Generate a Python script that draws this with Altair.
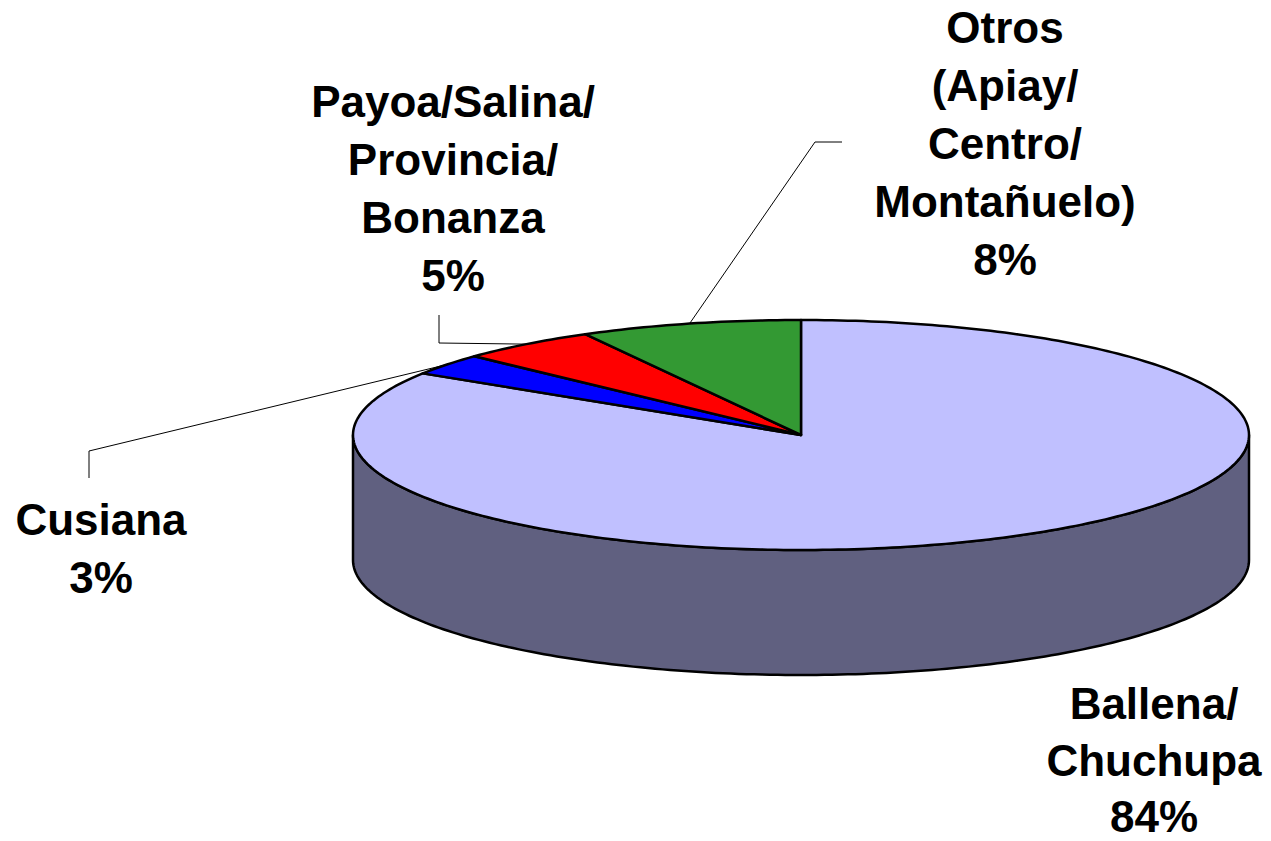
import math
import altair as alt
import pandas as pd

# ---- data ----
categories = ["Ballena/Chuchupa", "Cusiana", "Payoa/Salina/Provincia/Bonanza",
              "Otros (Apiay/Centro/Montañuelo)"]
values = [84, 3, 5, 8]
label_lines = [["Ballena/", "Chuchupa"], ["Cusiana"],
               ["Payoa/Salina/", "Provincia/", "Bonanza"],
               ["Otros", "(Apiay/", "Centro/", "Montañuelo)"]]
top_colors = ["#C0C0FF", "#0000FF", "#FF0000", "#339933"]
side_colors = ["#606080", "#000080", "#800000", "#1A4D1A"]

# ---- layout (pixels of the page) ----
CX, CY, RX, RY, DEPTH = 801, 435, 448, 115, 125
LABEL_ANCHOR = [(1154, 719), (101, 535), (453, 117), (1005, 43)]
LINE_H = [56.5, 58, 58, 58]
LEADER = [None, [(89, 451), (89, 478)], [(439, 343), (439, 315)], [(815, 142), (842, 142)]]
FONT = "Liberation Sans"
FS = 44


def rim(theta_deg, dy=0.0):
    t = math.radians(theta_deg)
    return [CX + RX * math.sin(t), CY - RY * math.cos(t) + dy]


def arc(t0, t1, dy=0.0, step=1.0):
    n = max(2, int(abs(t1 - t0) / step) + 1)
    return [rim(t0 + (t1 - t0) * i / (n - 1), dy) for i in range(n)]


total = sum(values)
starts, ends = [], []
acc = 0.0
for v in values:
    starts.append(acc / total * 360)
    acc += v
    ends.append(acc / total * 360)

# side (front half 90..270 deg) coloured by the slice covering it
side_feats = []
for i in range(len(values)):
    a0, a1 = max(starts[i], 90), min(ends[i], 270)
    if a1 > a0:
        ring = arc(a0, a1) + arc(a1, a0, DEPTH)
        ring.append(ring[0])
        side_feats.append({"type": "Feature",
                           "geometry": {"type": "Polygon", "coordinates": [ring]},
                           "properties": {"fill": side_colors[i], "name": categories[i]}})

top_feats = []
for i in range(len(values)):
    ring = [[CX, CY]] + arc(starts[i], ends[i]) + [[CX, CY]]
    top_feats.append({"type": "Feature",
                      "geometry": {"type": "Polygon", "coordinates": [ring]},
                      "properties": {"fill": top_colors[i], "name": categories[i]}})

line_feats = []
for i in range(len(values)):
    if LEADER[i] is None:
        continue
    mid = (starts[i] + ends[i]) / 2
    pts = [rim(mid)] + [list(p) for p in LEADER[i]]
    line_feats.append({"type": "Feature",
                       "geometry": {"type": "LineString", "coordinates": pts},
                       "properties": {"name": categories[i]}})

rows = []
for i in range(len(values)):
    lines = label_lines[i] + [f"{values[i]}%"]
    x0, y0 = LABEL_ANCHOR[i]
    for k, t in enumerate(lines):
        rows.append({"x": x0, "y": y0 + k * LINE_H[i], "t": t})
text_df = pd.DataFrame(rows)

PROJ = dict(type="identity", scale=1, translate=[-8, -8])

side = alt.Chart(alt.Data(values=side_feats)).mark_geoshape(
    stroke="black", strokeWidth=2.5, strokeJoin="round"
).encode(fill=alt.Fill("properties.fill:N", scale=None)).project(**PROJ)

top = alt.Chart(alt.Data(values=top_feats)).mark_geoshape(
    stroke="black", strokeWidth=2.5, strokeJoin="round"
).encode(fill=alt.Fill("properties.fill:N", scale=None)).project(**PROJ)

leaders = alt.Chart(alt.Data(values=line_feats)).mark_geoshape(
    filled=False, stroke="black", strokeWidth=1
).encode(stroke=alt.value("black")).project(**PROJ)

labels = alt.Chart(text_df).mark_text(
    font=FONT, fontSize=FS, fontWeight="bold", align="center",
    baseline="alphabetic", color="black"
).encode(longitude="x:Q", latitude="y:Q", text="t:N").project(**PROJ)

chart = alt.layer(side, top, leaders, labels).properties(
    width=1255, height=829,
    autosize=alt.AutoSizeParams(type="none"),
    padding=0,
).configure_view(stroke=None)

chart.save("out.html", embed_options={"renderer": "svg", "actions": False})
